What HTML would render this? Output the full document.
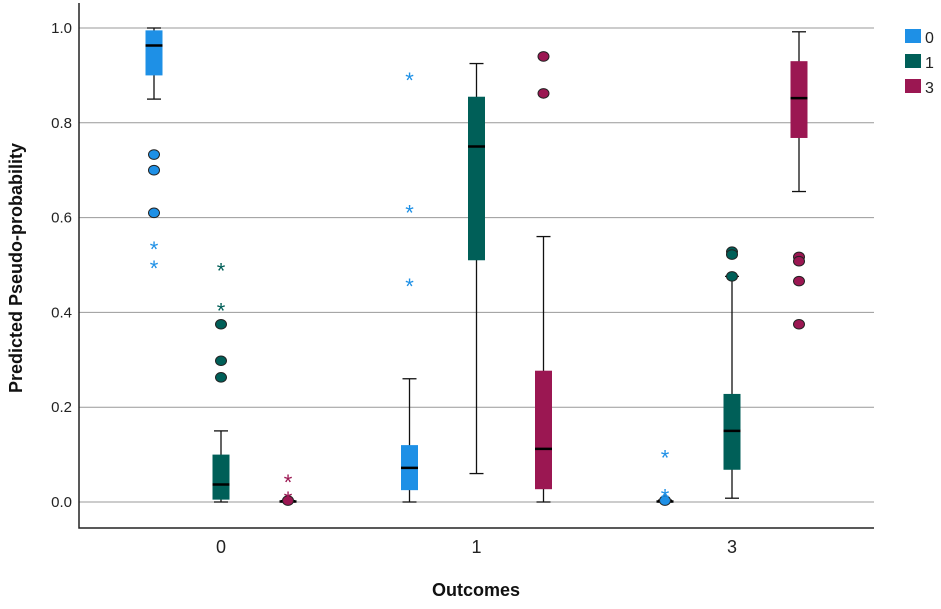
<!DOCTYPE html>
<html><head><meta charset="utf-8"><style>
body{margin:0;background:#fff;}
svg text{font-family:"Liberation Sans",sans-serif;}
</style></head><body>
<svg id="chart" width="941" height="604" xmlns="http://www.w3.org/2000/svg"></svg>
<script>
const categories=["0","1","3"];
const seriesNames=["0","1","3"];
const seriesColors=["#1e90e6","#005f58","#9b1752"];
const yTicks=[0,0.2,0.4,0.6,0.8,1.0];
const yTickLabels=["0.0","0.2","0.4","0.6","0.8","1.0"];
// [min,q1,median,q3,max] per category per series
const boxes0=[[0.85,0.90,0.963,0.995,1.0],[0,0.025,0.072,0.12,0.26],[0,0,0.001,0.002,0.004]];
const boxes1=[[0,0.005,0.037,0.10,0.15],[0.06,0.51,0.75,0.855,0.925],[0.008,0.068,0.15,0.228,0.476]];
const boxes3=[[0,0,0.001,0.002,0.003],[0,0.027,0.112,0.277,0.56],[0.655,0.768,0.852,0.93,0.992]];
const circles0=[[0.733,0.70,0.61],[],[0.003]];
const circles1=[[0.375,0.298,0.263],[],[0.528,0.522,0.476]];
const circles3=[[0.003],[0.94,0.862],[0.517,0.508,0.466,0.375]];
const stars0=[[0.54,0.50],[0.897,0.617,0.462],[0.10,0.018,0.008]];
const stars1=[[0.495,0.41],[],[]];
const stars3=[[0.048,0.013],[],[]];
const allBoxes=[boxes0,boxes1,boxes3],allCircles=[circles0,circles1,circles3],allStars=[stars0,stars1,stars3];
const NS="http://www.w3.org/2000/svg",svg=document.getElementById('chart');
const L=79,R=874,T=3,B=528;
const y=v=>502-v*474;
const x=(c,s)=>221+c*255.5+(s-1)*67;
function mk(t,a,p){const e=document.createElementNS(NS,t);for(const k in a)e.setAttribute(k,a[k]);(p||svg).appendChild(e);return e;}
yTicks.forEach((t,i)=>{
 const g=mk('line',{x1:L,x2:R,y1:y(t),y2:y(t),stroke:'#999','stroke-width':1});
 
 
 const tx=mk('text',{x:72,y:y(t)+5,'text-anchor':'end','font-size':15,fill:'#222'});tx.textContent=yTickLabels[i];
 
 
});
const ax=mk('path',{d:`M${L} ${T} V${B} H${R}`,fill:'none',stroke:'#222','stroke-width':1.5});


categories.forEach((c,i)=>{
 const t=mk('text',{x:x(i,1),y:553,'text-anchor':'middle','font-size':18,fill:'#222'});t.textContent=c;
 
 
});
for(let s=0;s<3;s++)for(let c=0;c<3;c++){
 const b=allBoxes[s][c],cx=x(c,s),w=17,col=seriesColors[s];
 const g=mk('g',{});
 
 
 mk('line',{x1:cx,x2:cx,y1:y(b[0]),y2:y(b[4]),stroke:'#111','stroke-width':1.3},g);
 mk('line',{x1:cx-7,x2:cx+7,y1:y(b[0]),y2:y(b[0]),stroke:'#111','stroke-width':1.3},g);
 mk('line',{x1:cx-7,x2:cx+7,y1:y(b[4]),y2:y(b[4]),stroke:'#111','stroke-width':1.3},g);
 mk('rect',{x:cx-w/2,y:y(b[3]),width:w,height:Math.max(1.5,y(b[1])-y(b[3])),fill:col},g);
 mk('line',{x1:cx-w/2,x2:cx+w/2,y1:y(b[2]),y2:y(b[2]),stroke:'#000','stroke-width':2.5},g);
 allCircles[s][c].forEach(v=>{const e=mk('ellipse',{cx:cx,cy:y(v),rx:5.5,ry:4.8,fill:col,stroke:'#222','stroke-width':1},g);
  
  });
 allStars[s][c].forEach(v=>{const e=mk('text',{x:cx,y:y(v)+11,'text-anchor':'middle','font-size':22,fill:col},g);e.textContent='*';
  
  });
}
seriesNames.forEach((n,i)=>{
 const g=mk('g',{});
 
 
 mk('rect',{x:905,y:29+i*25,width:16,height:14,fill:seriesColors[i]},g);
 const t=mk('text',{x:925,y:43+i*25,'font-size':16,fill:'#222'},g);t.textContent=n;
});
const yt=mk('text',{x:0,y:0,'font-size':18,'font-weight':'bold','text-anchor':'middle',fill:'#111',transform:'translate(22,268) rotate(-90)'});yt.textContent='Predicted Pseudo-probability';


const xt=mk('text',{x:476,y:596,'font-size':18,'font-weight':'bold','text-anchor':'middle',fill:'#111'});xt.textContent='Outcomes';


</script>
</body></html>
